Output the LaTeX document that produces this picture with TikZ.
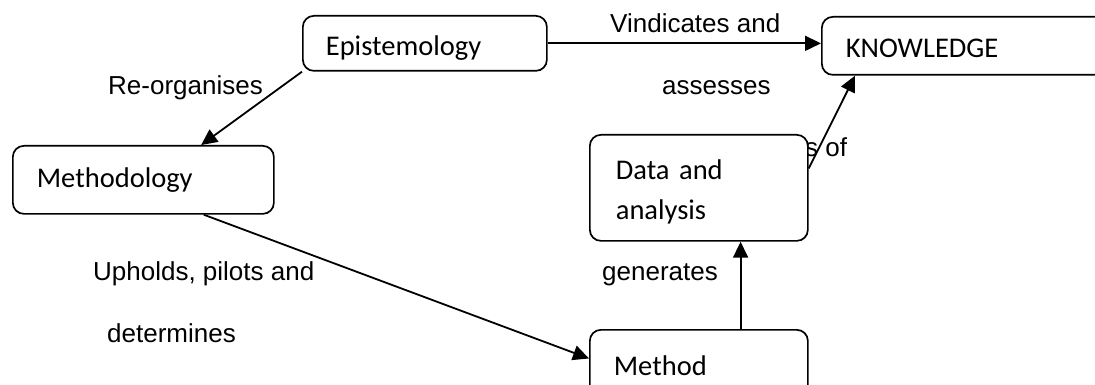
\documentclass[tikz,border=0pt]{standalone}
\usepackage{fontspec}
\setmainfont{Liberation Sans}
\newfontfamily\boxfont{Carlito}
\usetikzlibrary{arrows.meta,calc}

\tikzset{
  concept/.style={draw, line width=1.7pt, rounded corners=11pt, fill=white,
    font=\boxfont\fontsize{28.5}{40}\selectfont, align=left, anchor=north west,
    inner ysep=0pt},
  link/.style={line width=1.8pt, -{Triangle[length=16pt,width=15pt]}},
  verb/.style={font=\fontsize{26}{30}\selectfont, anchor=base west, inner sep=0pt},
}

\begin{document}
\begin{tikzpicture}[x=1pt,y=-1pt]
  \clip (0,0) rectangle (1095,385);
  \fill[white] (0,0) rectangle (1095,385);

  % phrase partly hidden behind the data box
  \node[verb] (partof) at (805,157) {s of};

  % concept boxes
  \node[concept, minimum width=244pt, minimum height=55pt, inner xsep=23pt,
        text width=198pt, text height=25pt, text depth=0pt] (epi) at (302,15) {Epistemology};
  \node[concept, minimum width=290pt, minimum height=58pt, inner xsep=24pt,
        text width=242pt, text height=24pt, text depth=0pt] (know) at (821,16) {KNOWLEDGE};
  \node[concept, minimum width=261pt, minimum height=68pt, inner xsep=24pt,
        text width=213pt] (meth) at (12,145) {Methodology};
  \node[concept, minimum width=218pt, minimum height=106pt, inner xsep=26pt,
        text width=166pt] (data) at (589,134) {\rule{0pt}{28pt}Data and\\analysis};
  \node[concept, minimum width=218pt, minimum height=72pt, inner xsep=24pt,
        text width=170pt] (method) at (589,329) {Method};

  % connector end points on the box borders
  \coordinate (methTop) at ($(meth.north west)!0.72!(meth.north east)$);
  \coordinate (methBot) at ($(meth.south west)!0.73!(meth.south east)$);
  \coordinate (methodIn) at ($(method.north west)!0.40!(method.south west)$);
  \coordinate (methodTop) at ($(method.north west)!0.69!(method.north east)$);
  \coordinate (dataOut) at ($(data.north east)!0.32!(data.south east)$);
  \coordinate (knowBot) at ([xshift=34pt]know.south west);

  % connectors
  \draw[link] (epi.east) -- (epi.east -| know.west);
  \draw[link] (epi.south west) -- (methTop);
  \draw[link] (methBot) -- (methodIn);
  \draw[link] (methodTop) -- (methodTop |- data.south);
  \draw[link] (dataOut) -- (knowBot);

  % connector labels
  \node[verb] (vind) at (610,33) {Vindicates and};
  \node[verb] (asse) at (662,95) {assesses};
  \node[verb] (reorg) at (108,95) {Re-organises};
  \node[verb] (uphold) at (93,280) {Upholds, pilots and};
  \node[verb] (determ) at (107,342) {determines};
  \node[verb] (gener) at (602,280) {generates};
\end{tikzpicture}
\end{document}
